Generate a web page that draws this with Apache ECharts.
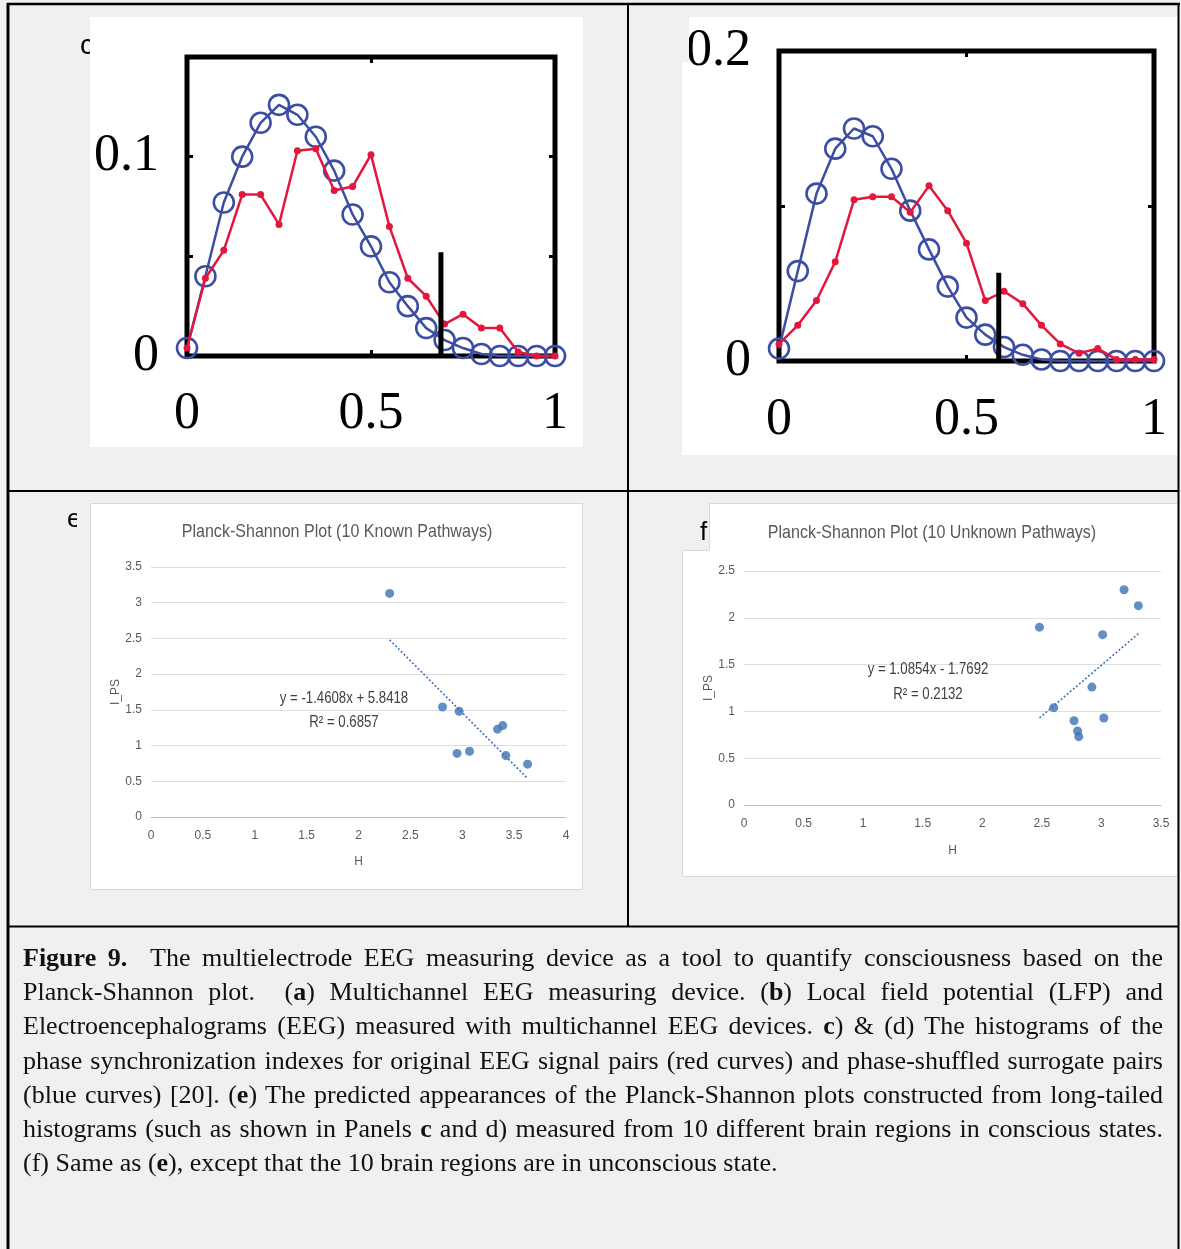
<!DOCTYPE html>
<html>
<head>
<meta charset="utf-8">
<script src="https://cdn.jsdelivr.net/npm/echarts@6/dist/echarts.min.js"></script>
<style>
html,body{margin:0;padding:0;background:#f0f0f0;}
#wrap{position:relative;width:1181px;height:1249px;overflow:hidden;}
#chart{position:absolute;left:0;top:0;width:1181px;height:1249px;}
#caption{position:absolute;left:23px;top:941px;width:1140px;font-family:'Liberation Serif','Times New Roman',serif;font-size:26px;line-height:34.2px;color:#111;}
#caption div{white-space:nowrap;text-align:justify;text-align-last:justify;}
#caption div.last{text-align:left;text-align-last:left;}
</style>
</head>
<body>
<div id="wrap">
<div id="chart"></div>
<div id="caption">
<div><b>Figure 9.</b>&nbsp; The multielectrode EEG measuring device as a tool to quantify consciousness based on the</div>
<div>Planck-Shannon plot.&nbsp; (<b>a</b>) Multichannel EEG measuring device. (<b>b</b>) Local field potential (LFP) and</div>
<div>Electroencephalograms (EEG) measured with multichannel EEG devices. <b>c</b>) &amp; (d) The histograms of the</div>
<div>phase synchronization indexes for original EEG signal pairs (red curves) and phase-shuffled surrogate pairs</div>
<div>(blue curves) [20]. (<b>e</b>) The predicted appearances of the Planck-Shannon plots constructed from long-tailed</div>
<div>histograms (such as shown in Panels <b>c</b> and d) measured from 10 different brain regions in conscious states.</div>
<div class="last">(f) Same as (<b>e</b>), except that the 10 brain regions are in unconscious state.</div>
</div>
</div>
<script>
// ---------- data ----------
const histX = [0, 0.05, 0.1, 0.15, 0.2, 0.25, 0.3, 0.35, 0.4, 0.45, 0.5, 0.55, 0.6, 0.65, 0.7, 0.75, 0.8, 0.85, 0.9, 0.95, 1.0];
// panel c
const blueC = [0.004, 0.040, 0.077, 0.100, 0.117, 0.126, 0.121, 0.110, 0.093, 0.071, 0.055, 0.037, 0.025, 0.014, 0.008, 0.004, 0.001, 0.000, 0.000, 0.000, 0.000];
const redC  = [0.004, 0.039, 0.053, 0.081, 0.081, 0.066, 0.103, 0.104, 0.083, 0.085, 0.101, 0.065, 0.039, 0.030, 0.016, 0.021, 0.014, 0.014, 0.002, 0.000, 0.000];
const markC = [0.69, 0.052];
const yTicksC = ['0', '0.1'];
// panel d
const blueD = [0.008, 0.058, 0.108, 0.137, 0.150, 0.145, 0.124, 0.097, 0.072, 0.048, 0.028, 0.017, 0.009, 0.004, 0.001, 0.000, 0.000, 0.000, 0.000, 0.000, 0.000];
const redD  = [0.011, 0.023, 0.039, 0.064, 0.104, 0.106, 0.106, 0.096, 0.113, 0.097, 0.076, 0.039, 0.045, 0.037, 0.023, 0.011, 0.005, 0.008, 0.001, 0.001, 0.001];
const markD = [0.586, 0.057];
const yTicksD = ['0', '0.2'];
// panel e (10 known pathways)
const eH = [2.30, 2.81, 2.97, 2.95, 3.07, 3.34, 3.39, 3.42, 3.63];
const eI = [3.13, 1.54, 1.48, 0.89, 0.92, 1.23, 1.28, 0.86, 0.74];
const eTrendX = [2.30, 3.63];
const eTrendY = [2.48, 0.54];
const eTitle = 'Planck-Shannon Plot (10 Known Pathways)';
const eEq = ['y = -1.4608x + 5.8418', 'R\u00b2 = 0.6857'];
// panel f (10 unknown pathways)
const fH = [2.48, 2.60, 2.77, 2.80, 2.81, 2.92, 3.01, 3.02, 3.19, 3.31];
const fI = [1.90, 1.04, 0.90, 0.79, 0.73, 1.26, 1.82, 0.93, 2.30, 2.13];
const fTrendX = [2.48, 3.31];
const fTrendY = [0.93, 1.83];
const fTitle = 'Planck-Shannon Plot (10 Unknown Pathways)';
const fEq = ['y = 1.0854x - 1.7692', 'R\u00b2 = 0.2132'];

// ---------- helpers ----------
const zip = (xs, ys) => xs.map((x, i) => [x, ys[i]]);
const BLUE = '#3c4ea3', RED = '#e3173d', DOT = '#3b72b6';
const SERIF = "'Liberation Serif','Times New Roman',serif";
const SANS = "'Liberation Sans',Arial,sans-serif";
const GREY_TXT = '#595959';

function tickStyle() {
  return {show: true, inside: true, length: 6, lineStyle: {color: '#000', width: 3}};
}
const noLine = () => ({show: false, onZero: false});
function matlabAxes(grid, ymax, yint, yLabels, xMargin) {
  const fmt = v => { const s = yLabels.find(l => Math.abs(parseFloat(l) - v) < 1e-9); return s === undefined ? '' : s; };
  return {
    x: [
      {gridIndex: grid, type: 'value', min: 0, max: 1, interval: 0.5, position: 'bottom',
       axisLine: noLine(), axisTick: tickStyle(), splitLine: {show: false},
       axisLabel: {color: '#000', fontFamily: SERIF, fontSize: 52, margin: xMargin}},
      {gridIndex: grid, type: 'value', min: 0, max: 1, interval: 0.5, position: 'top',
       axisLine: noLine(), axisTick: tickStyle(), splitLine: {show: false}, axisLabel: {show: false}}
    ],
    y: [
      {gridIndex: grid, type: 'value', min: 0, max: ymax, interval: yint, position: 'left',
       axisLine: noLine(), axisTick: tickStyle(), splitLine: {show: false},
       axisLabel: {color: '#000', fontFamily: SERIF, fontSize: 52, margin: 28, formatter: fmt}},
      {gridIndex: grid, type: 'value', min: 0, max: ymax, interval: yint, position: 'right',
       axisLine: noLine(), axisTick: tickStyle(), splitLine: {show: false}, axisLabel: {show: false}}
    ]
  };
}
function excelAxes(grid, xmax, ymax, xGap, yGap) {
  return {
    x: {gridIndex: grid, type: 'value', min: 0, max: xmax, interval: 0.5,
        name: 'H', nameLocation: 'middle', nameGap: xGap,
        nameTextStyle: {color: GREY_TXT, fontFamily: SANS, fontSize: 12},
        axisLine: {show: true, lineStyle: {color: '#bfbfbf', width: 1}}, axisTick: {show: false},
        splitLine: {show: false},
        axisLabel: {color: GREY_TXT, fontFamily: SANS, fontSize: 12, margin: 13}},
    y: {gridIndex: grid, type: 'value', min: 0, max: ymax, interval: 0.5,
        name: 'I_PS', nameLocation: 'middle', nameGap: yGap,
        nameTextStyle: {color: GREY_TXT, fontFamily: SANS, fontSize: 12},
        axisLine: {show: false}, axisTick: {show: false},
        splitLine: {show: true, lineStyle: {color: '#dedede', width: 1}},
        axisLabel: {color: GREY_TXT, fontFamily: SANS, fontSize: 12, margin: 9}}
  };
}
const aC = matlabAxes(0, 0.15, 0.05, yTicksC, 32);
const aD = matlabAxes(1, 0.2, 0.1, yTicksD, 33);
const aE = excelAxes(2, 4, 3.5, 39, 28);
const aF = excelAxes(3, 3.5, 2.5, 40, 26);

function histSeries(xi, yi, blue, red, mark) {
  return [
    {type: 'line', xAxisIndex: xi, yAxisIndex: yi, data: zip(histX, blue), clip: false,
     symbol: 'circle', symbolSize: 20, lineStyle: {color: BLUE, width: 2.5},
     itemStyle: {color: 'rgba(0,0,0,0)', borderColor: BLUE, borderWidth: 2.6}, z: 3},
    {type: 'line', xAxisIndex: xi, yAxisIndex: yi, data: zip(histX, red), clip: false,
     symbol: 'circle', symbolSize: 7, lineStyle: {color: RED, width: 2.5},
     itemStyle: {color: RED}, z: 4},
    {type: 'line', xAxisIndex: xi, yAxisIndex: yi, data: [[mark[0], 0], [mark[0], mark[1]]],
     symbol: 'none', lineStyle: {color: '#000', width: 5, cap: 'butt'}, z: 5}
  ];
}
function scatterSeries(xi, yi, hs, is, tx, ty) {
  return [
    {type: 'scatter', xAxisIndex: xi, yAxisIndex: yi, data: zip(hs, is), symbolSize: 9,
     itemStyle: {color: DOT}, z: 4},
    {type: 'line', xAxisIndex: xi, yAxisIndex: yi, data: zip(tx, ty), symbol: 'none',
     lineStyle: {color: DOT, width: 1.6, type: [2, 2]}, z: 3}
  ];
}

function rect(x, y, w, h, fill, z, stroke) {
  return {type: 'rect', shape: {x, y, width: w, height: h}, z,
          style: {fill, stroke: stroke || null, lineWidth: stroke ? 1 : 0}};
}
function line(x1, y1, x2, y2, w) {
  return {type: 'line', shape: {x1, y1, x2, y2}, z: 60, style: {stroke: '#000', lineWidth: w}};
}
function txt(x, y, s, size, color, family, align, z, sx) {
  return {type: 'text', x, y, z: z || 20, scaleX: sx || 1, originX: 0, originY: 0,
          style: {text: s, fontSize: size, fill: color, fontFamily: family, align: align || 'center',
                  verticalAlign: 'middle'}};
}

const graphics = [
  txt(80, 46, 'c', 28, '#000', SANS, 'left', -20),
  txt(67, 520, 'e', 26, '#000', SANS, 'left', -20),
  rect(77, 505, 12, 30, '#f0f0f0', -15),
  rect(90, 17, 493, 430, '#ffffff', -10),
  rect(682, 17, 496, 438, '#ffffff', -10),
  rect(90.5, 503.5, 492, 386, '#ffffff', -10, '#d9d9d9'),
  rect(682.5, 550.5, 495, 326, '#ffffff', -10, '#d9d9d9'),
  rect(709.5, 503.5, 468, 60, '#ffffff', -9),
  {type: 'line', shape: {x1: 709.5, y1: 503.5, x2: 1178, y2: 503.5}, z: -8, style: {stroke: '#d9d9d9', lineWidth: 1}},
  {type: 'line', shape: {x1: 709.5, y1: 503.5, x2: 709.5, y2: 550.5}, z: -8, style: {stroke: '#d9d9d9', lineWidth: 1}},
  txt(700, 533, 'f', 26, '#000', SANS, 'left', 10),
  rect(680, 17, 9, 45, '#f0f0f0', 50),
  txt(337, 532, eTitle, 19, GREY_TXT, SANS, 'center', 20, 0.845),
  txt(344, 698, eEq[0], 16.5, '#404040', SANS, 'center', 20, 0.8),
  txt(344, 722, eEq[1], 16.5, '#404040', SANS, 'center', 20, 0.8),
  txt(932, 533, fTitle, 19, GREY_TXT, SANS, 'center', 20, 0.845),
  txt(928, 669, fEq[0], 16.5, '#404040', SANS, 'center', 20, 0.8),
  txt(928, 694, fEq[1], 16.5, '#404040', SANS, 'center', 20, 0.8),
  line(7, 4, 1180, 4, 2.5),
  line(8, 3, 8, 1249, 3),
  line(1178.5, 3, 1178.5, 1249, 2),
  line(628, 4, 628, 927, 2),
  line(8, 491, 1179, 491, 2),
  line(8, 926.5, 1179, 926.5, 2)
];

const option = {
  backgroundColor: '#f0f0f0',
  animation: false,
  grid: [
    {left: 187, top: 57, width: 368, height: 299, show: true, borderColor: '#000', borderWidth: 5, backgroundColor: 'rgba(0,0,0,0)'},
    {left: 779, top: 51, width: 375, height: 310, show: true, borderColor: '#000', borderWidth: 5, backgroundColor: 'rgba(0,0,0,0)'},
    {left: 151, top: 567, width: 415, height: 250},
    {left: 744, top: 571, width: 417, height: 234}
  ],
  xAxis: [aC.x[0], aC.x[1], aD.x[0], aD.x[1], aE.x, aF.x],
  yAxis: [aC.y[0], aC.y[1], aD.y[0], aD.y[1], aE.y, aF.y],
  series: [].concat(
    histSeries(0, 0, blueC, redC, markC),
    histSeries(2, 2, blueD, redD, markD),
    scatterSeries(4, 4, eH, eI, eTrendX, eTrendY),
    scatterSeries(5, 5, fH, fI, fTrendX, fTrendY)
  ),
  graphic: graphics
};
const chart = echarts.init(document.getElementById('chart'), null, {renderer: 'canvas'});
chart.setOption(option);
</script>
</body>
</html>
